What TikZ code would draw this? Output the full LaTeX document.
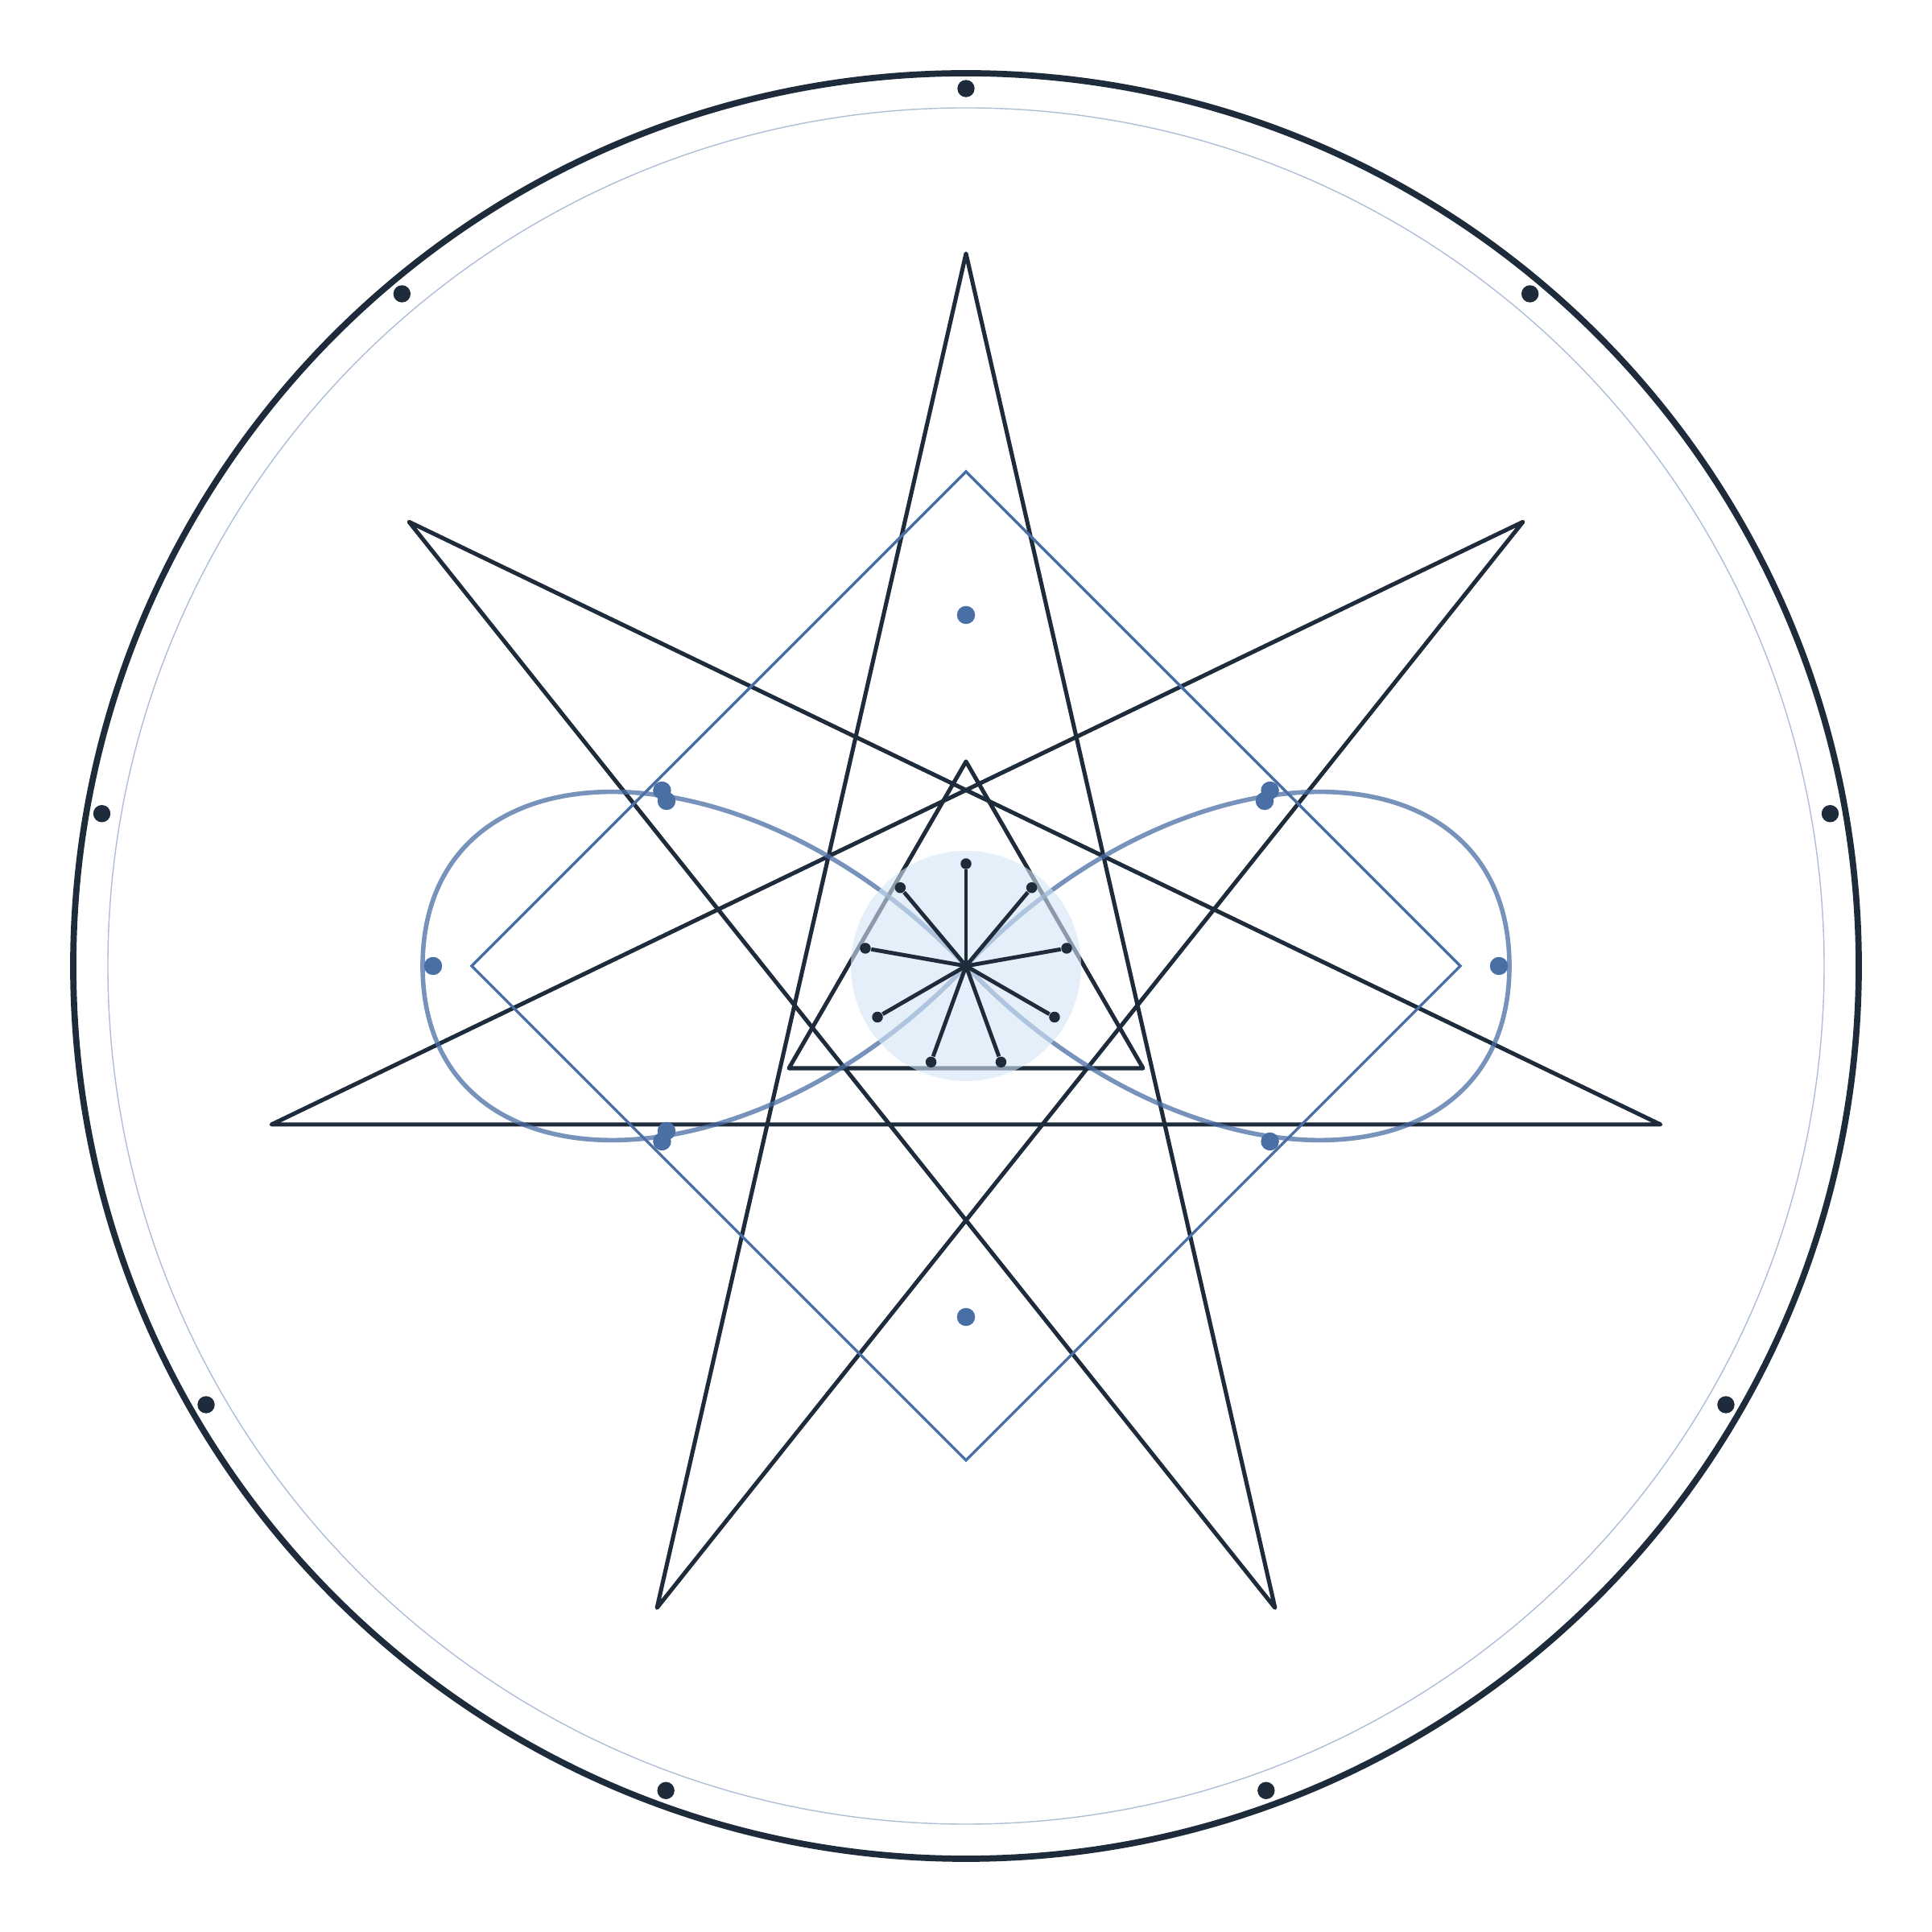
\documentclass[tikz,border=0pt]{standalone}
\usepackage{tikz}
\definecolor{inkdark}{HTML}{1E2B3A}
\definecolor{steelblue}{HTML}{4A6FA5}
\definecolor{hubblue}{RGB}{212,228,245}
\tikzset{
  rimline/.style={draw=inkdark, line width=2.2pt},
  starline/.style={draw=inkdark, line width=1.45pt, line join=round},
  diamondline/.style={draw=steelblue, line width=1pt},
  loopline/.style={draw=steelblue, line width=1.6pt, draw opacity=0.75},
  rimdot/.style={shape=circle, fill=inkdark, inner sep=0pt, minimum size=2.14mm},
  bluedot/.style={shape=circle, fill=steelblue, inner sep=0pt, minimum size=2.25mm},
  tipdot/.style={shape=circle, fill=inkdark, inner sep=0pt, minimum size=1.35mm},
  spoke/.style={draw=inkdark, line width=1.4pt}
}

\begin{document}
\begin{tikzpicture}
    \useasboundingbox (-12,-12) rectangle (12,12);

    % rings
    \draw[rimline] (0,0) circle (11.09);
    \draw[draw=steelblue!45, line width=0.4pt] (0,0) circle (10.66);

    \node[rimdot] (R1) at (90:10.9) {};
    \node[rimdot] (R2) at (50:10.9) {};
    \node[rimdot] (R3) at (10:10.9) {};
    \node[rimdot] (R4) at (-30:10.9) {};
    \node[rimdot] (R5) at (-70:10.9) {};
    \node[rimdot] (R6) at (-110:10.9) {};
    \node[rimdot] (R7) at (-150:10.9) {};
    \node[rimdot] (R8) at (170:10.9) {};
    \node[rimdot] (R9) at (130:10.9) {};

    % heptagram {7/3}
    \coordinate (S0) at (90:8.85);
    \coordinate (S1) at (141.43:8.85);
    \coordinate (S2) at (192.86:8.85);
    \coordinate (S3) at (244.29:8.85);
    \coordinate (S4) at (295.71:8.85);
    \coordinate (S5) at (347.14:8.85);
    \coordinate (S6) at (38.57:8.85);
    \draw[starline] (S0) -- (S3) -- (S6) -- (S2) -- (S5) -- (S1) -- (S4) -- cycle;

    % diamond
    \coordinate (D1) at (0,6.14);
    \coordinate (D2) at (6.14,0);
    \coordinate (D3) at (0,-6.14);
    \coordinate (D4) at (-6.14,0);
    \draw[diamondline] (D1) -- (D2) -- (D3) -- (D4) -- cycle;

    % inner triangle
    \coordinate (T1) at (90:2.54);
    \coordinate (T2) at (210:2.54);
    \coordinate (T3) at (330:2.54);
    \draw[starline] (T1) -- (T2) -- (T3) -- cycle;

    % figure eight
    \draw[loopline] (0,0) .. controls (-2.75,2.9) and (-6.75,2.87) .. (-6.75,0)
        .. controls (-6.75,-2.87) and (-2.75,-2.9) .. (0,0)
        .. controls (2.75,2.9) and (6.75,2.87) .. (6.75,0)
        .. controls (6.75,-2.87) and (2.75,-2.9) .. (0,0);

    \node[bluedot] (H1) at (90:4.36) {};
    \node[bluedot] (H2) at (30:4.36) {};
    \node[bluedot] (H3) at (-30:4.36) {};
    \node[bluedot] (H4) at (-90:4.36) {};
    \node[bluedot] (H5) at (-150:4.36) {};
    \node[bluedot] (H6) at (150:4.36) {};
    \node[bluedot] (L1) at (-3.72,2.05) {};
    \node[bluedot] (L2) at (3.71,2.05) {};
    \node[bluedot] (L3) at (-3.72,-2.05) {};
    \node[bluedot] (L4) at (-6.62,0) {};
    \node[bluedot] (L5) at (6.62,0) {};

    % hub
    \fill[hubblue, fill opacity=0.6] (0,0) circle (1.43);
    \coordinate (C) at (0,0);
    \node[tipdot] (P1) at (90:1.27) {};
    \node[tipdot] (P2) at (50:1.27) {};
    \node[tipdot] (P3) at (10:1.27) {};
    \node[tipdot] (P4) at (-30:1.27) {};
    \node[tipdot] (P5) at (-70:1.27) {};
    \node[tipdot] (P6) at (-110:1.27) {};
    \node[tipdot] (P7) at (-150:1.27) {};
    \node[tipdot] (P8) at (170:1.27) {};
    \node[tipdot] (P9) at (130:1.27) {};
    \draw[spoke] (C) -- (P1);
    \draw[spoke] (C) -- (P2);
    \draw[spoke] (C) -- (P3);
    \draw[spoke] (C) -- (P4);
    \draw[spoke] (C) -- (P5);
    \draw[spoke] (C) -- (P6);
    \draw[spoke] (C) -- (P7);
    \draw[spoke] (C) -- (P8);
    \draw[spoke] (C) -- (P9);

\end{tikzpicture}
\end{document}
